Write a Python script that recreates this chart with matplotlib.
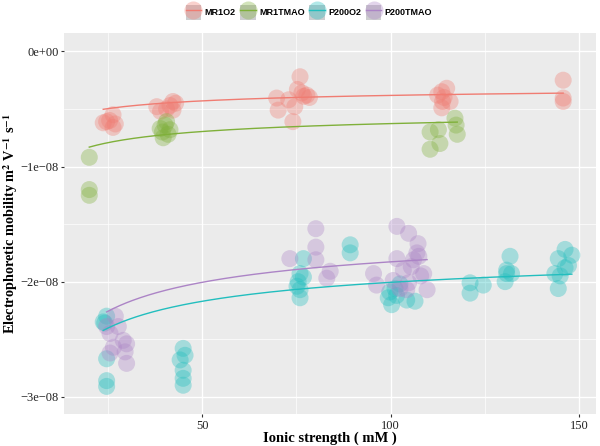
import numpy as np
import matplotlib
matplotlib.use("Agg")
import matplotlib.pyplot as plt
from matplotlib.lines import Line2D
from matplotlib.patches import Rectangle

plt.rcParams["mathtext.fontset"] = "stix"

# ---- data (y in units of 1e-8 m^2 V^-1 s^-1) ----
series_names = ["MR1O2", "MR1TMAO", "P200O2", "P200TMAO"]
series_colors = ["#F07C72", "#7FB03A", "#22BEBE", "#AC84C6"]

mr1o2_x = [24.7, 26.4, 26.4, 23.8, 25.5, 27.0,
           38.0, 42.3, 42.3, 40.6, 39.0, 43.0, 41.5,
           69.8, 70.2, 76.0, 75.3, 77.0, 74.6, 74.1, 77.8, 73.0, 78.5, 76.5,
           113.6, 114.9, 113.8, 113.6, 115.8, 112.5, 114.2,
           145.8, 145.8, 145.8]
mr1o2_y = [-0.61, -0.55, -0.66, -0.62, -0.60, -0.63,
           -0.48, -0.435, -0.51, -0.50, -0.52, -0.45, -0.47,
           -0.405, -0.51, -0.22, -0.33, -0.39, -0.48, -0.61, -0.38, -0.42, -0.40, -0.36,
           -0.35, -0.32, -0.435, -0.49, -0.435, -0.38, -0.40,
           -0.25, -0.405, -0.435]

mr1tmao_x = [20.1, 20.1, 20.1,
             40.6, 38.9, 39.7, 41.5, 41.0, 40.2, 39.5,
             110.5, 112.7, 110.5, 113.1, 117.1, 117.4, 117.7]
mr1tmao_y = [-0.92, -1.20, -1.25,
             -0.61, -0.67, -0.75, -0.68, -0.72, -0.64, -0.70,
             -0.70, -0.68, -0.85, -0.80, -0.58, -0.64, -0.72]

p200o2_x = [23.8, 24.7, 24.7, 24.7, 24.7, 24.2,
            45.0, 44.2, 45.5, 45.0, 45.0, 45.0,
            76.9, 76.0, 75.5, 76.0, 76.0, 76.9, 75.2,
            89.3, 89.3,
            99.4, 100.3, 101.6, 104.3, 106.5, 101.2, 102.5, 99.8,
            121.1, 121.1, 124.6,
            131.7, 130.8, 130.8, 130.4, 132.1,
            146.3, 148.1, 144.5, 143.6, 144.5, 146.3, 147.2, 145.0]
p200o2_y = [-2.35, -2.30, -2.67, -2.86, -2.91, -2.36,
            -2.58, -2.68, -2.64, -2.77, -2.84, -2.90,
            -1.80, -1.93, -2.00, -2.07, -2.14, -1.96, -2.04,
            -1.68, -1.75,
            -2.14, -2.20, -2.12, -2.16, -2.17, -2.06, -2.02, -2.09,
            -2.01, -2.10, -2.03,
            -1.78, -1.90, -1.93, -2.00, -1.93,
            -1.72, -1.77, -1.80, -1.93, -2.06, -1.88, -1.86, -1.95]

p200tmao_x = [27.0, 25.6, 27.8, 29.1, 30.0, 26.5, 29.6, 30.0, 25.6, 24.7,
              73.3, 80.2, 80.2, 80.2, 83.1, 84.0,
              95.5, 96.3,
              101.7, 104.8, 107.3, 101.7, 107.5, 108.8, 109.7, 100.7, 103.4,
              104.8, 106.1, 107.0, 104.3, 102.5, 105.5, 108.0]
p200tmao_y = [-2.30, -2.45, -2.39, -2.51, -2.54, -2.57, -2.61, -2.71, -2.62, -2.39,
              -1.80, -1.54, -1.70, -1.81, -1.97, -1.91,
              -1.93, -2.03,
              -1.52, -1.58, -1.67, -1.80, -1.78, -1.93, -2.07, -1.99, -1.90,
              -2.01, -1.81, -1.75, -2.07, -2.06, -1.87, -1.95]

# fitted curves y = a + b / sqrt(x)
fit_a = [-0.267, -0.461, -1.608, -1.398]
fit_b = [-1.15, -1.66, -3.98, -4.30]

x_ticks = [50, 100, 150]
y_ticks = [0.0, -1.0, -2.0, -3.0]
y_tick_labels = ["0e+00", "\u22121e\u221208", "\u22122e\u221208", "\u22123e\u221208"]
SCALE = 1e-8

xs = [mr1o2_x, mr1tmao_x, p200o2_x, p200tmao_x]
ys = [mr1o2_y, mr1tmao_y, p200o2_y, p200tmao_y]

fig = plt.figure(figsize=(6.0, 4.46), dpi=100)
ax = fig.add_axes([0.1067, 0.0717, 0.8866, 0.8543])
ax.set_facecolor("#EBEBEB")
for s in ax.spines.values():
    s.set_visible(False)

ax.set_xlim(13.4, 154.5)
ax.set_ylim(-3.15 * SCALE, 0.16 * SCALE)
ax.set_xticks(x_ticks)
ax.set_xticks([25, 75, 125], minor=True)
ax.set_yticks([v * SCALE for v in y_ticks])
ax.set_yticklabels(y_tick_labels)
ax.set_yticks([v * SCALE for v in [-0.5, -1.5, -2.5]], minor=True)
ax.grid(True, which="major", color="white", linewidth=1.0)
ax.grid(True, which="minor", color="white", linewidth=0.5)
ax.set_axisbelow(True)
ax.tick_params(which="major", length=2.5, color="#333333", labelsize=9.0,
               labelcolor="#222222", pad=1.5)
ax.tick_params(which="minor", length=0)
for lab in ax.get_xticklabels() + ax.get_yticklabels():
    lab.set_family("Liberation Serif")

for x, y, c in zip(xs, ys, series_colors):
    ax.scatter(x, np.array(y) * SCALE, s=150, color=c, alpha=0.35,
               edgecolors="none", zorder=2)
for x, c, a, b in zip(xs, series_colors, fit_a, fit_b):
    xx = np.linspace(min(x), max(x), 200)
    ax.plot(xx, (a + b / np.sqrt(xx)) * SCALE, color=c, lw=1.0, zorder=3)

ax.set_xlabel("Ionic strength ( mM )", family="Liberation Serif",
              fontsize=10.5, fontweight="bold")
ax.xaxis.set_label_coords(0.5, -0.047)
ax.set_ylabel(r"Electrophoretic mobility m$^{\mathbf{2}}$ V$^{\mathbf{-1}}$ s$^{\mathbf{-1}}$",
              family="Liberation Serif", fontsize=10.3, fontweight="bold")
ax.yaxis.set_label_coords(-0.0835, 0.5)

# legend
handles = []
for c in series_colors:
    bg = Rectangle((0, 0), 1, 1, facecolor="#CDCDCF", edgecolor="none")
    pt = Line2D([], [], marker="o", markersize=13, color=c, alpha=0.35,
                linestyle="none", markeredgewidth=0)
    ln = Line2D([], [], color=c, lw=1.0)
    handles.append((bg, pt, ln))
leg = fig.legend(handles, series_names, loc="center", ncol=4,
                 bbox_to_anchor=(0.515, 0.972), frameon=False,
                 handlelength=1.7, handleheight=2.2, handletextpad=0.4,
                 columnspacing=0.5,
                 prop={"family": "Liberation Sans", "size": 6.5,
                       "weight": "bold"})

fig.savefig("out.png", dpi=100)
